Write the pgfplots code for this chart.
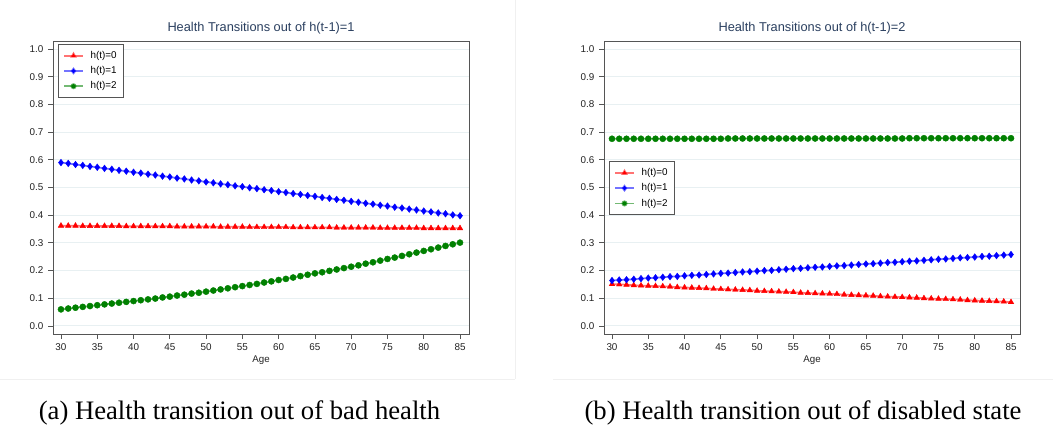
\documentclass[border=0pt]{standalone}
\usepackage{pgfplots}
\pgfplotsset{compat=1.18}
\usepackage{pgfplotstable}
\usepackage{fontspec}
\setmainfont{Liberation Serif}
\newfontfamily\arial{Liberation Sans}

\definecolor{titleblue}{HTML}{2A3F5F}
\definecolor{gridc}{RGB}{232,240,242}
\definecolor{framec}{HTML}{555555}
\definecolor{ticktext}{HTML}{222222}
\definecolor{pgreen}{RGB}{0,128,0}
\definecolor{panelline}{RGB}{240,240,240}

% age, P(h=0), P(h=1), P(h=2) given h(t-1)=1
\pgfplotstableread{
age r b g
30 0.362 0.590 0.060
31 0.362 0.587 0.063
32 0.362 0.583 0.066
33 0.361 0.580 0.069
34 0.361 0.576 0.072
35 0.361 0.573 0.075
36 0.361 0.569 0.078
37 0.361 0.566 0.081
38 0.361 0.562 0.084
39 0.360 0.559 0.087
40 0.360 0.555 0.090
41 0.360 0.552 0.093
42 0.360 0.548 0.096
43 0.360 0.545 0.099
44 0.360 0.541 0.103
45 0.360 0.538 0.106
46 0.359 0.534 0.110
47 0.359 0.531 0.113
48 0.359 0.527 0.117
49 0.359 0.524 0.120
50 0.359 0.520 0.124
51 0.359 0.517 0.128
52 0.358 0.513 0.132
53 0.358 0.510 0.136
54 0.358 0.506 0.140
55 0.358 0.503 0.144
56 0.357 0.499 0.148
57 0.357 0.496 0.152
58 0.357 0.492 0.157
59 0.357 0.489 0.161
60 0.357 0.485 0.166
61 0.357 0.482 0.170
62 0.356 0.478 0.175
63 0.356 0.475 0.180
64 0.356 0.471 0.185
65 0.356 0.468 0.190
66 0.356 0.464 0.194
67 0.356 0.461 0.199
68 0.355 0.457 0.204
69 0.355 0.454 0.209
70 0.355 0.450 0.214
71 0.355 0.447 0.219
72 0.355 0.443 0.225
73 0.355 0.440 0.230
74 0.354 0.436 0.236
75 0.354 0.433 0.242
76 0.354 0.429 0.247
77 0.354 0.426 0.253
78 0.354 0.422 0.259
79 0.354 0.419 0.265
80 0.353 0.415 0.271
81 0.353 0.412 0.277
82 0.353 0.408 0.283
83 0.353 0.405 0.289
84 0.353 0.401 0.295
85 0.353 0.398 0.301
}\tabA

% age, P(h=0), P(h=1), P(h=2) given h(t-1)=2
\pgfplotstableread{
age r b g
30 0.151 0.164 0.676
31 0.150 0.166 0.676
32 0.149 0.167 0.676
33 0.147 0.169 0.676
34 0.146 0.171 0.676
35 0.145 0.173 0.676
36 0.144 0.174 0.676
37 0.143 0.176 0.676
38 0.142 0.178 0.676
39 0.140 0.179 0.676
40 0.139 0.181 0.676
41 0.138 0.183 0.676
42 0.137 0.184 0.676
43 0.136 0.186 0.676
44 0.134 0.188 0.676
45 0.133 0.190 0.676
46 0.132 0.191 0.677
47 0.131 0.193 0.677
48 0.130 0.195 0.677
49 0.129 0.196 0.677
50 0.127 0.198 0.677
51 0.126 0.200 0.677
52 0.125 0.201 0.677
53 0.124 0.203 0.677
54 0.123 0.205 0.677
55 0.122 0.207 0.677
56 0.120 0.208 0.677
57 0.119 0.210 0.677
58 0.118 0.212 0.677
59 0.117 0.213 0.677
60 0.116 0.215 0.677
61 0.115 0.217 0.677
62 0.113 0.218 0.677
63 0.112 0.220 0.677
64 0.111 0.222 0.677
65 0.110 0.224 0.677
66 0.109 0.225 0.677
67 0.107 0.227 0.677
68 0.106 0.229 0.677
69 0.105 0.230 0.677
70 0.104 0.232 0.677
71 0.103 0.234 0.678
72 0.102 0.235 0.678
73 0.100 0.237 0.678
74 0.099 0.239 0.678
75 0.098 0.241 0.678
76 0.097 0.242 0.678
77 0.096 0.244 0.678
78 0.095 0.246 0.678
79 0.093 0.247 0.678
80 0.092 0.249 0.678
81 0.091 0.251 0.678
82 0.090 0.252 0.678
83 0.089 0.254 0.678
84 0.088 0.256 0.678
85 0.086 0.258 0.678
}\tabB

\tikzset{
  paneltitle/.style={anchor=base, font=\arial\fontsize{9.6}{11}\selectfont,
    text=titleblue, inner sep=0pt},
}

\pgfplotsset{
  healthpanel/.style={
    scale only axis,
    width=312pt, height=219.75pt,
    xmin=28.9, xmax=86.24,
    ymin=-0.029, ymax=1.029,
    clip mode=individual,
    xtick={30,35,...,85},
    ytick={0,0.1,...,1.0},
    yticklabel style={/pgf/number format/.cd,fixed,fixed zerofill,precision=1},
    /pgf/number format/assume math mode=true,
    tick label style={font=\arial\fontsize{7.4}{8}\selectfont, text=ticktext},
    tick align=outside,
    xtick pos=bottom, ytick pos=left,
    major tick length=3.75pt,
    tick style={framec, line width=0.6pt},
    axis line style={framec, line width=0.75pt},
    ymajorgrids,
    major grid style={gridc, line width=0.75pt},
    xlabel={Age},
    xlabel style={font=\arial\fontsize{7.3}{8}\selectfont, text=ticktext, yshift=3pt},
    legend cell align=left,
    legend style={font=\arial\fontsize{7.4}{8}\selectfont, draw=framec, line width=0.75pt,
      fill=white, inner xsep=3.5pt, inner ysep=3pt, row sep=0.6pt,
      anchor=north west,
      /tikz/every odd column/.append style={column sep=3pt}},
    legend image code/.code={%
      \draw[mark repeat=2,mark phase=2,mark options={scale=0.7}]
        plot coordinates {(0cm,0cm) (0.25cm,0cm) (0.5cm,0cm)};},
  },
  sr/.style={red, draw opacity=0.55, line width=1.3pt, mark=triangle*, mark size=2.4pt,
    mark options={fill=red, draw=red, draw opacity=1, fill opacity=1, line width=0.3pt}},
  sb/.style={blue, draw opacity=0.55, line width=1.3pt, mark=diamond*, mark size=2.5pt,
    mark options={fill=blue, draw=blue, draw opacity=1, fill opacity=1, line width=0.3pt}},
  sg/.style={pgreen, draw opacity=0.55, line width=1.3pt, mark=*, mark size=2.3pt,
    mark options={fill=pgreen, draw=pgreen, draw opacity=1, fill opacity=1, line width=0.3pt}},
}

\begin{document}
\begin{tikzpicture}
\path[use as bounding box] (0,0) rectangle (789.75pt,-319.5pt);

% light panel separators
\draw[panelline, line width=0.75pt] (386.25pt,0pt) -- (386.25pt,-284pt);
\draw[panelline, line width=0.75pt] (0pt,-284.25pt) -- (386.25pt,-284.25pt);
\draw[panelline, line width=0.75pt] (415pt,-284.25pt) -- (789.75pt,-284.25pt);

\begin{axis}[healthpanel, at={(39.75pt,-250.5pt)}, anchor=south west,
  legend style={at={(0.012,0.99)}}]
  \addplot[sr] table[x=age,y=r] {\tabA};
  \addplot[sb] table[x=age,y=b] {\tabA};
  \addplot[sg] table[x=age,y=g] {\tabA};
  \legend{h(t)=0,h(t)=1,h(t)=2}
  \node[paneltitle] at (rel axis cs:0.5,1) [yshift=7.5pt] {Health Transitions out of h(t-1)=1};
\end{axis}

\begin{axis}[healthpanel, at={(453pt,-250.5pt)}, anchor=south west,
  legend style={at={(0.012,0.59)}}]
  \addplot[sr] table[x=age,y=r] {\tabB};
  \addplot[sb] table[x=age,y=b] {\tabB};
  \addplot[sg] table[x=age,y=g] {\tabB};
  \legend{h(t)=0,h(t)=1,h(t)=2}
  \node[paneltitle] at (rel axis cs:0.5,1) [yshift=7.5pt] {Health Transitions out of h(t-1)=2};
\end{axis}

\node[anchor=base, font=\fontsize{20}{24}\selectfont, inner sep=0pt] at (179.6pt,-314.25pt)
  {(a) Health transition out of bad health};
\node[anchor=base, font=\fontsize{20}{24}\selectfont, inner sep=0pt] at (602.25pt,-314.25pt)
  {(b) Health transition out of disabled state};
\end{tikzpicture}
\end{document}
